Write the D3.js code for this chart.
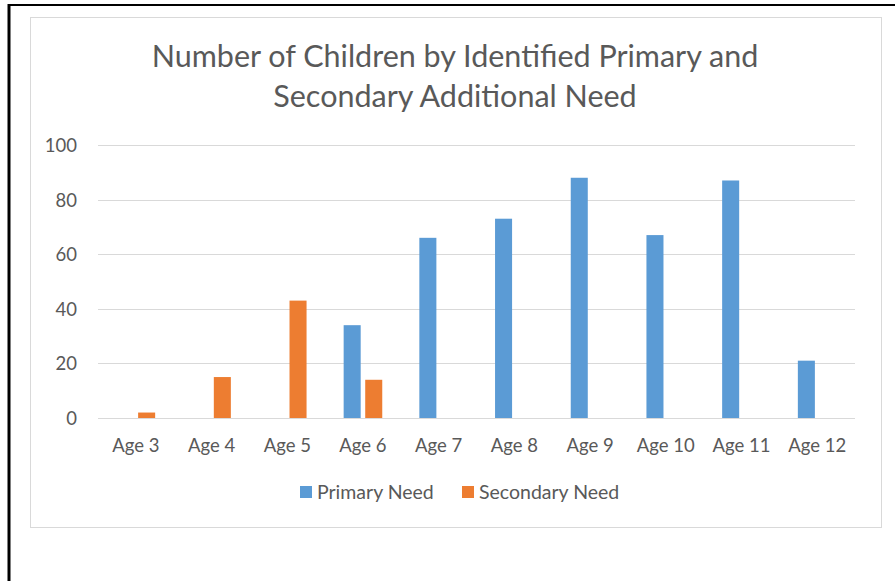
<!DOCTYPE html>
<html><head><meta charset="utf-8">
<script src="https://cdn.jsdelivr.net/npm/d3@7"></script>
<style>body{margin:0;background:#fff}svg{display:block}text{font-family:Lato,"Open Sans",sans-serif;fill:#595959}</style>
</head><body>
<script>
const categories = ["Age 3","Age 4","Age 5","Age 6","Age 7","Age 8","Age 9","Age 10","Age 11","Age 12"];
const primaryNeed = [0,0,0,34,66,73,88,67,87,21];
const secondaryNeed = [2,15,43,14,0,0,0,0,0,0];
const seriesNames = ["Primary Need","Secondary Need"];
const seriesColors = ["#5B9BD5","#ED7D31"];
const yTicks = [0,20,40,60,80,100];
const titleLines = ["Number of Children by Identified Primary and","Secondary Additional Need"];

const W=895,H=581;
const svg=d3.select("body").append("svg").attr("width",W).attr("height",H);
svg.append("rect").attr("width",W).attr("height",H).attr("fill","#fff");
// outer black frame
svg.append("line").attr("x1",8).attr("x2",W).attr("y1",5).attr("y2",5).attr("stroke","#000").attr("stroke-width",2);
svg.append("line").attr("x1",9).attr("x2",9).attr("y1",4).attr("y2",H).attr("stroke","#000").attr("stroke-width",3);
// chart area border
svg.append("rect").attr("x",30.5).attr("y",17.5).attr("width",851).attr("height",510).attr("fill","#fff").attr("stroke","#D9D9D9").attr("stroke-width",1);

const m={l:98,r:855,t:145,b:418};
const x=d3.scaleBand().domain(categories).range([m.l,m.r]);
const y=d3.scaleLinear().domain([0,100]).range([m.b,m.t]);

// gridlines
svg.append("g").selectAll("line").data(yTicks).join("line")
 .attr("x1",m.l).attr("x2",m.r).attr("y1",d=>Math.round(y(d))+0.5).attr("y2",d=>Math.round(y(d))+0.5)
 .attr("stroke","#D9D9D9").attr("stroke-width",1);

// y axis labels
const yAxis=d3.axisLeft(y).tickValues(yTicks).tickSize(0).tickPadding(0);
const gy=svg.append("g").attr("transform",`translate(77,0)`).call(yAxis);
gy.select(".domain").remove();
gy.selectAll("text").style("font-size","18.5px").attr("fill","#595959").attr("dy","0.35em");

// x axis labels
const xAxis=d3.axisBottom(x).tickSize(0).tickPadding(0);
const gx=svg.append("g").attr("transform",`translate(0,${m.b})`).call(xAxis);
gx.select(".domain").remove();
gx.selectAll("text").style("font-size","18.5px").attr("fill","#595959").attr("y",34).attr("dy",0);

// bars
const bw=x.bandwidth()*0.225, gap=x.bandwidth()*0.06;
const series=[primaryNeed,secondaryNeed];
series.forEach((vals,si)=>{
  svg.append("g").selectAll("rect").data(vals.map((v,i)=>({c:categories[i],v}))).join("rect")
   .filter(d=>d.v>0)
   .attr("x",d=>x(d.c)+x.bandwidth()/2 + (si===0? -gap/2-bw : gap/2))
   .attr("y",d=>y(d.v)).attr("width",bw).attr("height",d=>y(0)-y(d.v))
   .attr("fill",seriesColors[si]);
});

// title
svg.append("g").selectAll("text").data(titleLines).join("text")
 .attr("x",455).attr("y",(d,i)=>67+i*40).attr("text-anchor","middle")
 .style("font-size","30.5px").text(d=>d);

// legend
const lg=svg.append("g");
const lx=[300,462];
seriesNames.forEach((n,i)=>{
  lg.append("rect").attr("x",lx[i]).attr("y",486).attr("width",12).attr("height",12).attr("fill",seriesColors[i]);
  lg.append("text").attr("x",lx[i]+17).attr("y",499).style("font-size","19.5px").text(n);
});
</script>
</body></html>
